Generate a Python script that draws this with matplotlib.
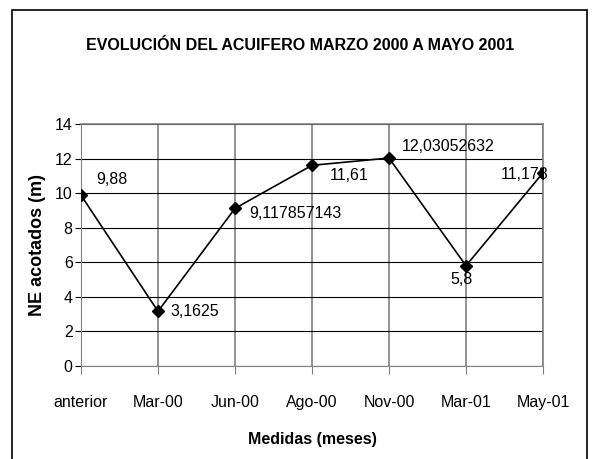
import matplotlib.pyplot as plt

# data
meses = ["anterior", "Mar-00", "Jun-00", "Ago-00", "Nov-00", "Mar-01", "May-01"]
ne = [9.88, 3.1625, 9.117857143, 11.61, 12.03052632, 5.8, 11.178]
etiquetas = ["9,88", "3,1625", "9,117857143", "11,61", "12,03052632", "5,8", "11,178"]
yticks = [0, 2, 4, 6, 8, 10, 12, 14]

plt.rcParams['font.family'] = ['Liberation Sans', 'DejaVu Sans']

fig = plt.figure(figsize=(5.92, 4.59), dpi=100)
ax = fig.add_axes([81/592, 1-366/459, (543-81)/592, (366-124)/459])

# outer frame like the excel chart area
fig.patches.append(plt.Rectangle((12/592, -0.01), (587-12)/592, 1-10/459+0.01,
                                  transform=fig.transFigure, fill=False,
                                  edgecolor="black", lw=1.2))

x = list(range(len(meses)))
ax.plot(x, ne, color="black", lw=1.2, marker="D", markersize=6.5,
        markerfacecolor="black", zorder=3)

# label offsets (points) like in the original
offs = [(11, 11, "left", "center"), (9, 0, "left", "center"), (10, -4, "left", "center"),
        (13, -7, "left", "center"), (9, 8, "left", "center"), (-3, -10, "center", "center"),
        (4, -1, "right", "center")]
for xi, yi, t, (dx, dy, ha, va) in zip(x, ne, etiquetas, offs):
    ax.annotate(t, (xi, yi), xytext=(dx, dy), textcoords="offset points",
                ha=ha, va=va, fontsize=11.5, zorder=2)

ax.set_xlim(0, 6)
ax.set_ylim(0, 14)
ax.set_yticks(yticks)
ax.set_xticks(x)
ax.set_xticklabels(meses)
ax.tick_params(axis="y", labelsize=11.5, length=4, color="black", pad=2)
ax.tick_params(axis="x", labelsize=11.5, length=6, color="gray", pad=15)
ax.grid(axis="y", color="black", lw=0.8)
ax.grid(axis="x", color="gray", lw=1.2)
for s in ["top", "right"]:
    ax.spines[s].set_color("gray")
    ax.spines[s].set_linewidth(1.2)
ax.spines["left"].set_color("gray")
ax.spines["bottom"].set_color("gray")
ax.set_axisbelow(True)

ax.set_ylabel("NE acotados (m)", fontsize=13, fontweight="bold", labelpad=6)
ax.set_xlabel("Medidas (meses)", fontsize=11.5, fontweight="bold", labelpad=16)
fig.text(300/592, 1-45/459, "EVOLUCIÓN DEL ACUIFERO MARZO 2000 A MAYO 2001",
         ha="center", va="center", fontsize=11.5, fontweight="bold")

fig.savefig("out.png", dpi=100)
